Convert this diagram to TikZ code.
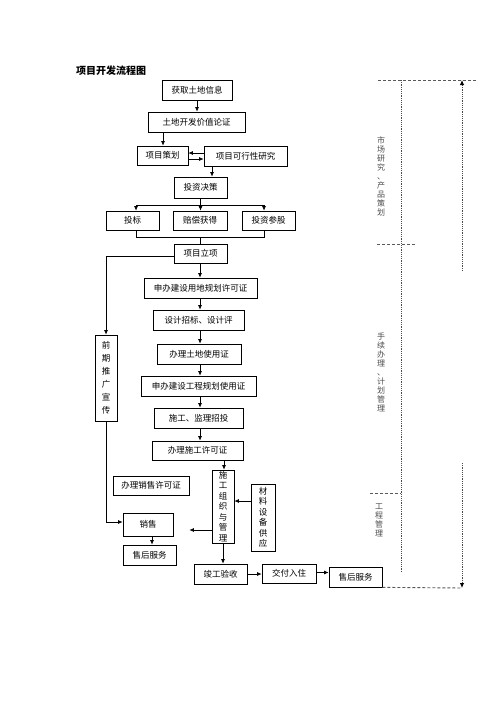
\documentclass[tikz,border=0pt]{standalone}
\usepackage{fontspec}
\setmainfont{Noto Sans CJK SC}
\usetikzlibrary{arrows.meta,positioning,calc}
\tikzset{
  box/.style={draw=black,line width=0.7pt,inner sep=0pt,minimum height=20pt,
    font=\fontsize{8.5}{10}\selectfont,text=black},
  vbox/.style={draw=black,line width=0.7pt,inner sep=0pt,align=center,
    font=\fontsize{8.5}{10.5}\selectfont,text=black},
  conn/.style={draw=black,line width=0.7pt},
  arr/.style={conn,-{Latex[length=4.5pt,width=4pt]}},
  guide/.style={draw=gray!70!black,line width=0.9pt,dash pattern=on 3pt off 2pt},
  dotline/.style={draw=gray!60!black,line width=0.9pt,dash pattern=on 1.2pt off 1pt},
  garr/.style={dotline,-{Latex[length=5pt,width=4.5pt,black]}},
  side/.style={align=center,inner sep=0pt,text=gray!60!black,
    font=\fontsize{8}{9}\selectfont},
}
\begin{document}
\begin{tikzpicture}[x=1pt,y=-1pt]
\useasboundingbox (0,0) rectangle (500,707);
\fill[white] (0,0) rectangle (500,707);

\node[inner sep=0pt,font=\fontsize{10}{12}\selectfont\bfseries] (title) at (111,71) {项目开发流程图};

% column helpers
\coordinate (c106) at (106,0);
\coordinate (c136) at (136,0);
\coordinate (c152) at (152,0);
\coordinate (c163) at (163,0);
\coordinate (c200) at (200,0);
\coordinate (c212) at (212,0);
\coordinate (c224) at (224,0);
\coordinate (c264) at (264,0);

\node[box,minimum width=70pt] (t1) at (197,90) {获取土地信息};
\node[box,minimum width=97pt] (t2) at (196.5,122) {土地开发价值论证};
\node[box,minimum width=51pt,minimum height=19pt] (p1) at (162.5,155.5) {项目策划};
\node[box,minimum width=83pt] (p2) at (245.5,156) {项目可行性研究};
\node[box,minimum width=53pt,minimum height=21pt] (d) at (200.5,187.5) {投资决策};
\node[box,minimum width=53pt,minimum height=19pt] (b1) at (132.5,220.5) {投标};
\node[box,minimum width=54pt,minimum height=19pt] (b2) at (200,220.5) {赔偿获得};
\node[box,minimum width=53pt,minimum height=19pt] (b3) at (268.5,220.5) {投资参股};
\node[box,minimum width=53pt,minimum height=19pt] (lx) at (200.5,253.5) {项目立项};
\node[box,minimum width=113pt] (s1) at (200.5,288) {申办建设用地规划许可证};
\node[box,minimum width=91pt] (s2) at (198.5,320) {设计招标、设计评};
\node[box,minimum width=84pt] (s3) at (199,354) {办理土地使用证};
\node[box,minimum width=115pt] (s4) at (198.5,386) {申办建设工程规划使用证};
\node[box,minimum width=89pt] (s5) at (198.5,418) {施工、监理招投};
\node[box,minimum width=91pt,minimum height=19pt] (s6) at (197.5,450.5) {办理施工许可证};
\node[vbox,minimum width=22pt,minimum height=73pt] (g) at (223,506.5) {施\\工\\组\\织\\与\\管\\理};
\node[box,minimum width=76pt,minimum height=19pt] (xs) at (151,485.5) {办理销售许可证};
\node[vbox,minimum width=24pt,minimum height=67pt] (cl) at (263,517.5) {材\\料\\设\\备\\供\\应};
\node[vbox,minimum width=22pt,minimum height=86pt,font=\fontsize{8.5}{13}\selectfont] (qq) at (106,378) {前\\期\\推\\广\\宣\\传};
\node[box,minimum width=50pt,minimum height=23pt] (xs2) at (148,524.5) {销售};
\node[box,minimum width=53pt] (sh1) at (149.5,555) {售后服务};
\node[box,minimum width=53pt] (jg) at (220.5,574) {竣工验收};
\node[box,minimum width=54pt,minimum height=19pt] (jf) at (289,573.5) {交付入住};
\node[box,minimum width=53pt] (sh2) at (355.5,577) {售后服务};

% connectors
\draw[arr] (t1.south) -- (t1.south |- t2.north);
\draw[arr] (t2.south -| c163) -- (p1.north -| c163);
\draw[arr] ([yshift=-3.5pt]p1.east) -- ([yshift=-3.5pt]p1.east -| p2.west);
\draw[arr] ([yshift=3pt]p2.west) -- ([yshift=3pt]p2.west -| p1.east);
\draw[arr] (p2.south -| c212) -- (d.north -| c212);
\draw[conn] (d.south) -- ++(0,7) coordinate (br);
\draw[conn] (br -| c136) -- (br -| c264);
\draw[arr] (br -| c136) -- (b1.north -| c136);
\draw[arr] (br) -- (br |- b2.north);
\draw[arr] (br -| c264) -- (b3.north -| c264);
\draw[conn] (b1.south -| c136) -- ++(0,7) coordinate (jn) -- (jn -| c264) -- (b3.south -| c264);
\draw[conn] (jn -| lx) -- (lx.north);
\draw[arr] (lx.south -| c200) -- (s1.north -| c200);
\draw[arr] (s1.south -| c200) -- (s2.north -| c200);
\draw[arr] (s2.south -| c200) -- (s3.north -| c200);
\draw[arr] (s3.south -| c200) -- (s4.north -| c200);
\draw[arr] (s4.south -| c200) -- (s5.north -| c200);
\draw[arr] (s5.south -| c200) -- (s6.north -| c200);
\draw[arr] (s6.south -| c224) -- (g.north -| c224);
\draw[arr] ([yshift=-23.5pt]g.west) -- ([yshift=-23.5pt]g.west -| xs.east);
\draw[arr] ([yshift=16.5pt]cl.west) -- ([yshift=16.5pt]cl.west -| g.east);
\draw[arr] (g.south) -- (g.south |- jg.north);
\draw[arr] (jg.east) -- (jg.east -| jf.west);
\draw[arr] ([yshift=1pt]jf.east) -- ([yshift=1pt]jf.east -| sh2.west);
\draw[arr] ([yshift=-2.5pt]lx.west) -| (qq.north);
\draw[arr] (qq.south) |- ([yshift=2.5pt]xs2.west);
\draw[arr] (xs2.south -| c152) -- (sh1.north -| c152);

% right-hand guides
\coordinate (gt) at (401,80);
\coordinate (gb) at (401,572);
\draw[dotline] (gt) -- (gb);
\draw[guide] (378,80) -- (477,80);
\draw[guide] (377,244) -- (416,244);
\draw[guide] (370,493) -- (401,493);
\draw[garr] (462,271) -- (462,80);
\coordinate (bend) at (462,588);
\draw[guide] (sh2.south east) -- (bend);
\draw[garr] (462,463) -- (bend);

\node[side] (m1) at (381,176) {市\\场\\研\\究\\、\\产\\品\\策\\划};
\node[side] (m2) at (381,372) {手\\续\\办\\理\\、\\计\\划\\管\\理};
\node[side] (m3) at (379,520) {工\\程\\管\\理};
\end{tikzpicture}
\end{document}
